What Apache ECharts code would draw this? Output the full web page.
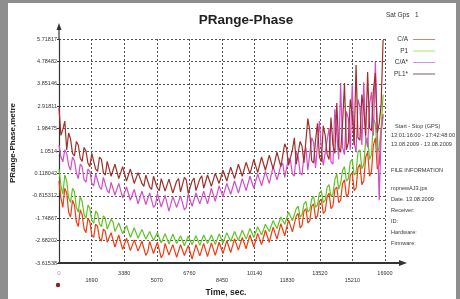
<!DOCTYPE html>
<html><head><meta charset="utf-8">
<script src="https://cdn.jsdelivr.net/npm/echarts@6/dist/echarts.min.js"></script>
<style>html,body{margin:0;padding:0;background:#8e8e8e;}#c{width:460px;height:299px;}</style>
</head><body><div id="c"></div>
<script>
var times = [0,100,200,300,400,500,600,700,800,900,1000,1100,1200,1300,1400,1500,1600,1700,1800,1900,
2000,2100,2200,2300,2400,2500,2600,2700,2800,2900,3000,3100,3200,3300,3400,3500,3600,3700,3800,3900,
4000,4100,4200,4300,4400,4500,4600,4700,4800,4900,5000,5100,5200,5300,5400,5500,5600,5700,5800,5900,
6000,6100,6200,6300,6400,6500,6600,6700,6800,6900,7000,7100,7200,7300,7400,7500,7600,7700,7800,7900,
8000,8100,8200,8300,8400,8500,8600,8700,8800,8900,9000,9100,9200,9300,9400,9500,9600,9700,9800,9900,
10000,10100,10200,10300,10400,10500,10600,10700,10800,10900,11000,11100,11200,11300,11400,11500,11600,11700,11800,11900,
12000,12100,12200,12300,12400,12500,12600,12700,12800,12900,13000,13100,13200,13300,13400,13500,13600,13700,13800,13900,
14000,14100,14200,14300,14400,14500,14600,14700,14800,14900,15000,15100,15200,15300,15400,15500,15600,15700,15800,15900,
16000,16100,16200,16300,16400,16500,16600,16700,16800];
var caValues = [-0.20,-0.90,-1.30,-0.50,-0.70,-1.50,-1.70,-1.00,-1.20,-1.90,-2.10,-1.40,-1.60,-2.20,-2.35,-1.75,-1.90,-2.45,-2.55,-2.00,
-2.10,-2.60,-2.70,-2.20,-2.30,-2.75,-2.80,-2.35,-2.40,-2.95,-2.90,-2.45,-2.50,-3.05,-3.00,-2.58,-2.55,-3.10,-3.05,-2.65,
-2.62,-3.12,-3.10,-2.70,-2.68,-3.30,-3.15,-2.72,-2.70,-3.22,-3.20,-2.75,-2.75,-3.40,-3.25,-2.80,-2.78,-3.28,-3.30,-2.85,
-2.80,-3.38,-3.35,-2.85,-2.82,-3.30,-3.30,-2.88,-2.85,-3.45,-3.40,-2.85,-2.82,-3.32,-3.30,-2.80,-2.80,-3.35,-3.28,-2.78,
-2.78,-3.30,-3.25,-2.75,-2.72,-3.22,-3.20,-2.68,-2.65,-3.18,-3.15,-2.60,-2.58,-3.08,-3.05,-2.55,-2.50,-3.02,-2.98,-2.45,
-2.42,-2.95,-2.90,-2.38,-2.32,-2.85,-2.80,-2.25,-2.20,-2.75,-2.68,-2.12,-2.05,-2.62,-2.55,-1.98,-1.90,-2.48,-2.40,-1.82,
-1.75,-2.32,-2.25,-1.65,-1.55,-2.15,-2.05,-1.45,-1.35,-1.95,-1.85,-1.25,-1.15,-1.75,-1.65,-1.05,-0.95,-1.55,-1.45,-0.85,
-0.70,-1.35,-1.25,-0.55,-0.45,-1.10,-1.00,-0.30,-0.15,-0.85,-0.75,0.05,0.15,-0.60,-0.50,0.35,0.50,-0.35,-0.20,0.80,
1.00,0.00,0.20,1.30,1.60,0.30,0.50,1.90,2.60];
var p1Values = [0.30,-0.40,-0.75,0.05,-0.20,-0.90,-1.10,-0.50,-0.65,-1.30,-1.50,-0.85,-1.05,-1.60,-1.75,-1.20,-1.35,-1.85,-1.95,-1.45,
-1.55,-2.00,-2.10,-1.65,-1.75,-2.20,-2.25,-1.80,-1.90,-2.30,-2.35,-1.95,-2.00,-2.40,-2.45,-2.05,-2.10,-2.55,-2.50,-2.15,
-2.20,-2.58,-2.60,-2.22,-2.25,-2.62,-2.65,-2.30,-2.30,-2.68,-2.70,-2.35,-2.40,-2.78,-2.75,-2.40,-2.45,-2.82,-2.80,-2.42,
-2.45,-2.80,-2.85,-2.48,-2.50,-2.90,-2.85,-2.50,-2.52,-2.85,-2.88,-2.48,-2.50,-2.88,-2.85,-2.45,-2.48,-2.80,-2.82,-2.45,
-2.45,-2.85,-2.80,-2.40,-2.40,-2.78,-2.75,-2.35,-2.35,-2.72,-2.70,-2.30,-2.30,-2.68,-2.65,-2.25,-2.25,-2.62,-2.58,-2.18,
-2.15,-2.55,-2.50,-2.10,-2.05,-2.45,-2.40,-2.00,-1.95,-2.30,-2.25,-1.85,-1.80,-2.18,-2.10,-1.70,-1.65,-2.00,-1.95,-1.50,
-1.45,-1.85,-1.80,-1.35,-1.25,-1.70,-1.60,-1.15,-1.05,-1.50,-1.40,-0.95,-0.85,-1.30,-1.20,-0.70,-0.60,-1.10,-1.00,-0.45,
-0.35,-0.85,-0.75,-0.15,0.10,-0.55,-0.30,0.25,0.40,-0.20,-0.10,0.60,0.70,0.05,0.15,1.00,1.10,0.30,0.50,1.50,
1.60,0.70,0.90,2.40,2.20,1.00,1.20,2.00,3.40];
var caStarValues = [1.30,0.80,0.60,1.10,0.95,0.45,0.25,0.80,0.65,0.15,-0.10,0.50,0.40,-0.15,-0.25,0.30,0.20,-0.30,-0.40,0.10,
0.05,-0.45,-0.55,-0.05,-0.10,-0.60,-0.70,-0.25,-0.20,-0.78,-0.85,-0.30,-0.35,-0.90,-0.95,-0.45,-0.40,-1.00,-1.05,-0.55,
-0.50,-1.15,-1.10,-0.62,-0.60,-1.18,-1.25,-0.70,-0.65,-1.30,-1.20,-0.72,-0.70,-1.28,-1.35,-0.80,-0.75,-1.45,-1.40,-0.85,
-0.80,-1.30,-1.35,-0.82,-0.78,-1.40,-1.30,-0.75,-0.72,-1.25,-1.28,-0.70,-0.65,-1.15,-1.20,-0.62,-0.55,-1.15,-1.10,-0.50,
-0.45,-1.05,-1.00,-0.40,-0.35,-0.85,-0.90,-0.30,-0.25,-0.75,-0.80,-0.20,-0.15,-0.70,-0.65,-0.10,-0.05,-0.60,-0.55,0.00,
0.05,-0.50,-0.45,0.10,0.15,-0.40,-0.35,0.20,0.25,-0.30,-0.25,0.40,0.35,-0.15,-0.20,0.45,0.55,-0.05,-0.10,0.75,
0.65,0.10,0.00,1.00,0.80,0.15,0.05,0.90,1.20,0.25,0.20,1.60,1.40,0.35,0.30,2.30,1.10,0.45,0.40,1.50,
2.00,0.60,0.50,2.80,1.80,0.70,3.88,1.20,0.90,2.70,2.40,1.10,3.80,1.40,1.00,3.20,2.90,1.30,3.92,1.60,
1.20,3.00,3.51,1.70,4.76,2.00,-1.00,1.80,2.50];
var pl1StarValues = [2.85,1.70,1.95,2.30,1.10,1.80,1.55,0.95,0.85,1.45,1.30,0.75,0.62,1.20,1.05,0.55,0.40,0.95,0.90,0.30,
0.20,0.80,0.70,0.15,0.05,0.62,0.55,0.00,-0.05,0.50,0.45,-0.10,-0.15,0.40,0.35,-0.20,-0.25,0.30,0.28,-0.30,
-0.35,0.15,0.20,-0.30,-0.42,0.05,0.12,-0.45,-0.55,0.00,0.05,-0.50,-0.60,-0.10,-0.02,-0.62,-0.68,-0.12,-0.05,-0.70,
-0.75,-0.20,-0.10,-0.65,-0.70,-0.05,-0.15,-0.72,-0.78,-0.20,-0.08,-0.60,-0.65,-0.12,0.02,-0.50,-0.55,0.05,0.10,-0.42,
-0.45,0.12,0.20,-0.30,-0.35,0.25,0.32,-0.20,-0.25,0.38,0.45,-0.10,-0.15,0.50,0.55,0.00,-0.05,0.58,0.65,0.10,
0.05,0.70,0.75,0.15,0.12,0.80,0.85,0.25,0.20,0.88,0.95,0.30,0.25,1.00,1.05,0.40,0.35,1.35,1.15,0.45,
0.40,1.10,1.60,0.50,0.45,1.45,1.25,0.55,0.50,2.40,1.90,0.65,0.55,1.50,2.20,0.80,0.60,2.10,1.70,0.90,
0.70,2.45,1.30,0.95,3.05,1.20,1.00,2.20,3.88,1.10,1.40,3.20,2.60,1.30,4.63,1.60,1.50,3.40,2.80,1.70,
4.34,2.00,1.90,3.60,4.30,1.80,2.20,3.00,5.68];
var seriesNames = ['C/A','P1','C/A*','PL1*'];
var yTickLabels = ['-3.61538','-2.68202','-1.74867','-0.815312','0.118042','1.0514','1.98475','2.91811','3.85146','4.78482','5.71817'];
var xTickLabels = ['0','1690','3380','5070','6760','8450','10140','11830','13520','15210','16900'];
var infoLines = ['Start - Stop (GPS)','13:01:16:00 - 17:42:48:00','13.08.2009 - 13.08.2009','FILE INFORMATION','mpnewAJ3.jps','Date. 13.08.2009','Receiver:','ID:','Hardware:','Firmware:'];

var yMin = -3.61538, yMax = 5.71817, yStep = (yMax - yMin) / 10;
var xMin = 0, xMax = 16900, xStep = 1690;

function pairs(vals){ return vals.map(function(v,i){ return [times[i], v]; }); }
var lineColors = ['#f23a10','#5ec422','#d44cc8','#a02e2a'];
var legendColors = ['#c98a6a','#b2dc6c','#dc94dc','#7a5a5a'];
var allValues = [caValues, p1Values, caStarValues, pl1StarValues];

var chart = echarts.init(document.getElementById('c'), null, {renderer:'canvas'});
var FONT = 'Liberation Sans, Arial, sans-serif';
var gridLine = {show:true, lineStyle:{color:'#555', width:1, type:[2,2]}};

var infoY = [127,136,145,171,189,200,211,222,233,244];
var graphics = [
  {type:'rect', shape:{x:8,y:3,width:448,height:296}, style:{fill:'#ffffff'}, z:-10},
  {type:'line', shape:{x1:385,y1:263,x2:402,y2:263}, style:{stroke:'#333',lineWidth:2}, z:10},
  {type:'polygon', shape:{points:[[407,263],[399,260],[399,266]]}, style:{fill:'#333'}, z:10},
  {type:'line', shape:{x1:59,y1:39,x2:59,y2:28}, style:{stroke:'#333',lineWidth:1.2}, z:10},
  {type:'polygon', shape:{points:[[59,23],[56.5,30],[61.5,30]]}, style:{fill:'#333'}, z:10},
  {type:'text', left:386, top:12, style:{text:'Sat Gps   1', font:'6.5px '+FONT, fill:'#333'}},
  {type:'circle', shape:{cx:58,cy:285,r:2.2}, style:{fill:'#8a2222'}}
];
infoLines.forEach(function(t,i){
  graphics.push({type:'text', left:(i===0?395:391), top:infoY[i]-4, style:{text:t, font:'5.6px '+FONT, fill:'#3a3a3a'}});
});

chart.setOption({
  animation:false,
  backgroundColor:'transparent',
  title:{text:'PRange-Phase', left:241, top:8, textAlign:'center',
    textStyle:{fontFamily:FONT, fontSize:13.5, fontWeight:'bold', color:'#222'}},
  legend:{orient:'vertical', left:389, top:31, align:'right', itemGap:4.5, itemWidth:22, itemHeight:7,
    textStyle:{fontFamily:FONT, fontSize:6.5, color:'#333', width:22, align:'left'},
    data: seriesNames.map(function(n,i){ return {name:n, icon:'path://M0,0L22,0L22,1L0,1Z', itemStyle:{color:legendColors[i]}}; })
  },
  grid:{left:59, top:39, right:75, bottom:36, containLabel:false, outerBoundsMode:'none'},
  xAxis:{type:'value', min:xMin, max:xMax, interval:xStep,
    name:'Time, sec.', nameLocation:'middle', nameGap:22,
    nameTextStyle:{fontFamily:FONT, fontSize:8.5, fontWeight:'bold', color:'#222', padding:[0,0,0,8]},
    axisLine:{show:true, onZero:false, lineStyle:{color:'#333', width:2}},
    axisTick:{show:false},
    splitLine:gridLine,
    axisLabel:{fontFamily:FONT, fontSize:5.5, color:'#333', margin:7,
      formatter:function(v){ var i=Math.round((v-xMin)/xStep); var t=xTickLabels[i];
        if(i===0) return '{z|'+t+'}';
        return (i%2===1) ? '{lo|'+t+'}' : '{hi|'+t+'}'; },
      rich:{hi:{fontSize:5.5, color:'#333'}, lo:{fontSize:5.5, color:'#333', padding:[7,0,0,0]}, z:{fontSize:6, color:'#e07a9a'}}
    }
  },
  yAxis:{type:'value', min:yMin, max:yMax, interval:yStep,
    name:'PRange-Phase,metre', nameLocation:'middle', nameGap:42, nameRotate:90,
    nameTextStyle:{fontFamily:FONT, fontSize:8, fontWeight:'bold', color:'#222', padding:[0,0,0,16]},
    axisLine:{show:true, onZero:false, lineStyle:{color:'#333', width:1.2}},
    axisTick:{show:true, length:2, lineStyle:{color:'#333'}},
    splitLine:gridLine,
    axisLabel:{fontFamily:FONT, fontSize:5.5, color:'#333', margin:2,
      formatter:function(v){ var i=Math.round((v-yMin)/yStep); return yTickLabels[i]||''; }}
  },
  series: seriesNames.map(function(n,i){
    return {name:n, type:'line', data:pairs(allValues[i]), symbol:'none', showSymbol:false,
      lineStyle:{color:lineColors[i], width:1.2}, itemStyle:{color:lineColors[i]}, z:2+i};
  }),
  graphic:graphics
});
</script></body></html>
